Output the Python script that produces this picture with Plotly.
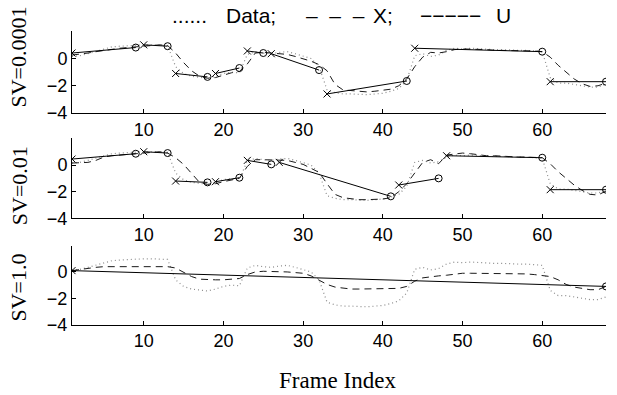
import plotly.graph_objects as go

frames = list(range(1, 69))

data_vals = [0.15, 0.2, 0.35, 0.5, 0.7, 0.85, 0.9, 0.95, 0.95, 1.0,
             1.0, 1.0, 0.95, -0.6, -1.1, -1.3, -1.4, -1.45, -1.3, -1.1,
             -1.0, -1.05, 0.3, 0.5, 0.4, 0.35, 0.45, 0.5, 0.35, 0.2,
             0.0, -0.6, -2.3, -2.5, -2.6, -2.6, -2.65, -2.65, -2.6, -2.55,
             -2.4, -2.2, -1.6, 0.2, 0.35, 0.15, 0.25, 0.6, 0.75, 0.7,
             0.75, 0.7, 0.7, 0.65, 0.65, 0.6, 0.6, 0.6, 0.55, 0.5,
             -1.4, -1.8, -1.8, -1.9, -2.0, -2.1, -2.1, -1.9]

x_sv1 = [0.25, 0.3, 0.4, 0.5, 0.6, 0.7, 0.75, 0.8, 0.85, 0.95,
         1.0, 1.0, 0.95, 0.4, -0.3, -0.9, -1.3, -1.45, -1.4, -1.2,
         -1.05, -0.95, -0.4, 0.4, 0.45, 0.4, 0.35, 0.3, 0.15, 0.0,
         -0.2, -0.45, -0.9, -1.9, -2.3, -2.35, -2.4, -2.45, -2.4, -2.35,
         -2.25, -2.0, -1.5, -0.6, 0.1, 0.45, 0.4, 0.5, 0.65, 0.7,
         0.7, 0.65, 0.65, 0.6, 0.6, 0.6, 0.55, 0.55, 0.55, 0.5,
         0.1, -0.5, -1.0, -1.5, -1.85, -2.05, -2.0, -1.8]

x_sv2 = [0.15, 0.15, 0.2, 0.35, 0.6, 0.7, 0.75, 0.8, 0.85, 0.95,
         1.0, 1.0, 0.9, 0.55, 0.05, -0.6, -1.3, -1.45, -1.4, -1.25,
         -1.15, -1.0, -0.1, 0.4, 0.4, 0.4, 0.4, 0.35, 0.2, 0.05,
         -0.25, -0.55, -1.4, -2.2, -2.45, -2.55, -2.6, -2.6, -2.6, -2.55,
         -2.45, -2.0, -1.4, -0.6, 0.2, 0.4, 0.1, 0.75, 0.85, 0.9,
         0.85, 0.75, 0.7, 0.7, 0.65, 0.65, 0.6, 0.6, 0.55, 0.55,
         0.1, -0.5, -1.0, -1.5, -1.9, -2.2, -2.25, -1.95]

x_sv3 = [0.1, 0.2, 0.3, 0.35, 0.4, 0.4, 0.4, 0.4, 0.4, 0.4,
         0.4, 0.4, 0.4, 0.3, 0.0, -0.35, -0.55, -0.6, -0.6, -0.6,
         -0.55, -0.5, -0.2, 0.0, 0.05, 0.05, 0.0, 0.0, -0.05, -0.1,
         -0.3, -0.6, -0.95, -1.15, -1.25, -1.3, -1.3, -1.3, -1.3, -1.3,
         -1.3, -1.25, -1.1, -0.7, -0.45, -0.35, -0.3, -0.25, -0.15, -0.1,
         -0.1, -0.1, -0.1, -0.1, -0.1, -0.1, -0.1, -0.15, -0.2, -0.25,
         -0.35, -0.6, -0.95, -1.15, -1.25, -1.35, -1.35, -1.1]

# U segments: start (x marker) and end (o marker)
u1_start_f = [1, 10, 14, 19, 23, 26, 33, 44, 61]
u1_start_v = [0.4, 1.0, -1.1, -1.1, 0.55, 0.35, -2.6, 0.75, -1.7]
u1_end_f = [9, 13, 18, 22, 25, 32, 43, 60, 68]
u1_end_v = [0.8, 0.9, -1.35, -0.7, 0.4, -0.85, -1.65, 0.5, -1.7]

u2_start_f = [1, 10, 14, 19, 23, 27, 42, 48, 61]
u2_start_v = [0.45, 1.0, -1.2, -1.25, 0.35, 0.2, -1.5, 0.7, -1.85]
u2_end_f = [9, 13, 18, 22, 26, 41, 47, 60, 68]
u2_end_v = [0.85, 0.9, -1.3, -0.95, 0.05, -2.35, -1.0, 0.55, -1.85]

u3_start_f = [1]
u3_start_v = [0.1]
u3_end_f = [68]
u3_end_v = [-1.1]

sv_labels = ["SV=0.0001", "SV=0.01", "SV=1.0"]
x_ticks = [10, 20, 30, 40, 50, 60]
y_ticks = [0, -2, -4]

panels = [
    (x_sv1, u1_start_f, u1_start_v, u1_end_f, u1_end_v),
    (x_sv2, u2_start_f, u2_start_v, u2_end_f, u2_end_v),
    (x_sv3, u3_start_f, u3_start_v, u3_end_f, u3_end_v),
]

W, H = 617, 395
def px(x):
    return x / W
def py(y):
    return 1 - y / H

dom_x = [px(72), px(606)]
panel_px = [(32, 116), (142, 224), (252, 333)]
label_cy = [59, 191, 295]

sans = "Liberation Sans, Arial, Helvetica"
serif = "Liberation Serif, Times New Roman"

fig = go.Figure()
for i, (xs, sf, sv, ef, ev) in enumerate(panels):
    ax = "" if i == 0 else str(i + 1)
    xref, yref = "x" + ax, "y" + ax
    fig.add_trace(go.Scatter(x=frames, y=data_vals, mode="lines", xaxis=xref, yaxis=yref,
                             line=dict(color="#8c8c8c", width=1.2, dash="1px,3px"), showlegend=False))
    fig.add_trace(go.Scatter(x=frames, y=xs, mode="lines", xaxis=xref, yaxis=yref,
                             line=dict(color="#1a1a1a", width=1, dash="7px,5px"), showlegend=False))
    ux, uy, sym = [], [], []
    for a, b, c, d in zip(sf, sv, ef, ev):
        ux += [a, c, None]
        uy += [b, d, None]
        sym += ["x-thin-open", "circle-open", "circle-open"]
    fig.add_trace(go.Scatter(x=ux, y=uy, mode="lines+markers", xaxis=xref, yaxis=yref,
                             line=dict(color="black", width=1),
                             marker=dict(symbol=sym, size=7, color="black",
                                         line=dict(color="black", width=1)),
                             showlegend=False, connectgaps=False))
    top, bot = panel_px[i]
    dom_y = [py(bot), py(top)]
    axis_common = dict(showline=True, linecolor="black", linewidth=1, ticks="inside",
                       ticklen=4, tickcolor="black", showgrid=False, zeroline=False,
                       tickfont=dict(family=sans, size=18, color="black"))
    fig.update_layout(**{
        "xaxis" + ax: dict(domain=dom_x, range=[1, 68], tickvals=x_ticks, anchor=yref,
                           **axis_common),
        "yaxis" + ax: dict(domain=dom_y, range=[-4, 2], tickvals=y_ticks, anchor=xref,
                           **axis_common),
    })
    fig.add_annotation(text=sv_labels[i], xref="paper", yref="paper",
                       x=px(19), y=py(label_cy[i]), textangle=-90,
                       showarrow=False, xanchor="center", yanchor="middle",
                       font=dict(family=serif, size=22, color="black"))

legend_parts = [("......", 170), ("Data;", 224), ("–&nbsp;&nbsp;–&nbsp;&nbsp;–", 304),
                ("X;", 371), ("−−−−−", 418), ("U", 494)]
for txt, x0 in legend_parts:
    fig.add_annotation(text=txt, xref="paper", yref="paper", x=px(x0), y=py(16),
                       showarrow=False, xanchor="left", yanchor="middle",
                       font=dict(family=sans, size=21, color="black"))
fig.add_annotation(text="Frame Index", xref="paper", yref="paper", x=px(337), y=py(390),
                   showarrow=False, xanchor="center", yanchor="middle",
                   font=dict(family=serif, size=23, color="black"))

fig.update_layout(width=W, height=H, margin=dict(l=0, r=0, t=0, b=0),
                  plot_bgcolor="white", paper_bgcolor="white", showlegend=False)
fig.write_html("out.html", config={"displayModeBar": False},
               post_script="document.body.style.margin='0px';")
